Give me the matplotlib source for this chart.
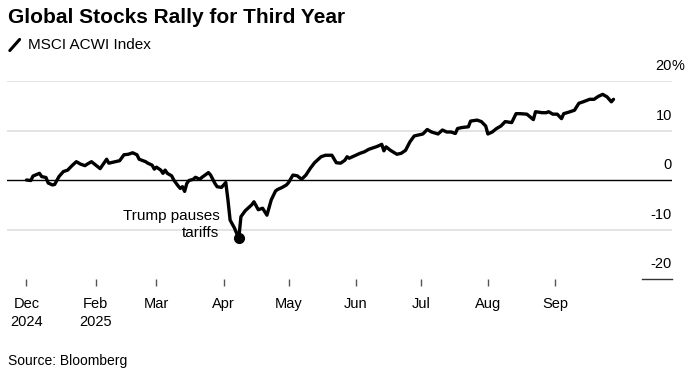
import pandas as pd
import matplotlib
matplotlib.use("Agg")
import matplotlib.pyplot as plt
from matplotlib.lines import Line2D

plt.rcParams["font.family"] = ["Liberation Sans", "DejaVu Sans"]

# MSCI ACWI Index, % change since end of 2024
dates = [
    "2024-12-31", "2025-01-02", "2025-01-03", "2025-01-06", "2025-01-07", "2025-01-09",
    "2025-01-10", "2025-01-12", "2025-01-13", "2025-01-15", "2025-01-17", "2025-01-19",
    "2025-01-21", "2025-01-23", "2025-01-25", "2025-01-27", "2025-01-28", "2025-01-30",
    "2025-02-01", "2025-02-03", "2025-02-06", "2025-02-07", "2025-02-10", "2025-02-12",
    "2025-02-14", "2025-02-16", "2025-02-18", "2025-02-20", "2025-02-21", "2025-02-24",
    "2025-02-25", "2025-02-27", "2025-02-28", "2025-03-01", "2025-03-03", "2025-03-04",
    "2025-03-05", "2025-03-06", "2025-03-08", "2025-03-09", "2025-03-11", "2025-03-12",
    "2025-03-13", "2025-03-14", "2025-03-15", "2025-03-16", "2025-03-18", "2025-03-19",
    "2025-03-21", "2025-03-22", "2025-03-23", "2025-03-25", "2025-03-26", "2025-03-28",
    "2025-03-29", "2025-03-31", "2025-04-02", "2025-04-03", "2025-04-04", "2025-04-06",
    "2025-04-08", "2025-04-09", "2025-04-11", "2025-04-14", "2025-04-15", "2025-04-17",
    "2025-04-19", "2025-04-21", "2025-04-23", "2025-04-25", "2025-04-26", "2025-04-28",
    "2025-04-30", "2025-05-01", "2025-05-03", "2025-05-05", "2025-05-07", "2025-05-09",
    "2025-05-11", "2025-05-13", "2025-05-16", "2025-05-18", "2025-05-21", "2025-05-23",
    "2025-05-25", "2025-05-27", "2025-05-28", "2025-05-29", "2025-05-31", "2025-06-03",
    "2025-06-05", "2025-06-07", "2025-06-09", "2025-06-11", "2025-06-13", "2025-06-14",
    "2025-06-15", "2025-06-17", "2025-06-20", "2025-06-22", "2025-06-24", "2025-06-26",
    "2025-06-28", "2025-06-30", "2025-07-02", "2025-07-04", "2025-07-06", "2025-07-09",
    "2025-07-11", "2025-07-13", "2025-07-15", "2025-07-17", "2025-07-18", "2025-07-20",
    "2025-07-23", "2025-07-24", "2025-07-27", "2025-07-29", "2025-07-31", "2025-08-01",
    "2025-08-03", "2025-08-05", "2025-08-07", "2025-08-09", "2025-08-12", "2025-08-14",
    "2025-08-16", "2025-08-19", "2025-08-22", "2025-08-23", "2025-08-26", "2025-08-28",
    "2025-08-29", "2025-08-31", "2025-09-02", "2025-09-04", "2025-09-05", "2025-09-08",
    "2025-09-10", "2025-09-12", "2025-09-14", "2025-09-17", "2025-09-19", "2025-09-21",
    "2025-09-23", "2025-09-25", "2025-09-27", "2025-09-28",
]
acwi_pct = [
    0.0, -0.1, 0.8, 1.35, 0.7, 0.5,
    -0.6, -1.0, -0.9, 0.7, 1.7, 2.0,
    2.9, 3.7, 3.2, 2.9, 3.2, 3.7,
    3.0, 2.3, 4.2, 3.4, 3.7, 3.9,
    5.1, 5.2, 5.5, 5.1, 4.2, 3.7,
    3.4, 3.0, 2.2, 2.6, 2.0, 1.35,
    2.0, 1.35, 0.85, 0.0, -1.2, -1.7,
    -1.35, -2.3, -0.7, -0.1, 0.15, 0.55,
    0.15, 0.55, 0.85, 1.5, 1.0, -0.7,
    -1.35, -1.5, -0.5, -4.0, -8.1, -9.7,
    -11.8, -7.4, -6.2, -5.0, -4.4, -6.0,
    -5.7, -7.1, -4.0, -2.2, -1.9, -1.5,
    -1.0, -0.5, 1.0, 0.85, 0.15, 1.0,
    2.35, 3.5, 4.7, 5.0, 5.0, 3.5,
    3.4, 4.0, 4.7, 4.4, 4.8, 5.4,
    5.7, 6.2, 6.5, 6.8, 7.2, 5.9,
    6.7, 6.0, 5.2, 5.4, 6.0, 7.7,
    8.9, 9.1, 9.3, 10.2, 9.7, 9.3,
    10.1, 9.7, 9.7, 9.4, 10.4, 10.6,
    10.75, 11.9, 12.1, 11.8, 10.9, 9.3,
    9.7, 10.4, 10.9, 11.8, 11.6, 13.4,
    13.4, 13.3, 12.2, 13.8, 13.6, 13.6,
    13.8, 13.3, 13.3, 12.4, 13.4, 13.8,
    14.1, 15.5, 15.8, 16.3, 16.3, 16.9,
    17.3, 16.8, 15.8, 16.3,
]

tick_dates = ["2024-12-31", "2025-02-01", "2025-03-01", "2025-04-01", "2025-05-01",
              "2025-06-01", "2025-07-01", "2025-08-01", "2025-09-01"]
tick_labels = ["Dec\n2024", "Feb\n2025", "Mar", "Apr", "May", "Jun", "Jul", "Aug", "Sep"]
y_ticks = [20, 10, 0, -10, -20]
y_labels = ["20", "10", "0", "-10", "-20"]

annot_date = "2025-04-08"
annot_text = "Trump pauses\ntariffs"

df = pd.DataFrame({"date": pd.to_datetime(dates), "pct": acwi_pct})

fig = plt.figure(figsize=(7.0, 3.83), dpi=100)
ax = fig.add_axes([0.01, 0.2715, 0.95, 0.517])

# gridlines
for v in y_ticks:
    if v == 0:
        ax.axhline(v, color="black", lw=1.0, zorder=2)
    elif v != -20:
        ax.axhline(v, color="#e3e3e3", lw=1.4, zorder=1)

ax.plot(df["date"], df["pct"], color="black", lw=2.4, solid_joinstyle="round",
        solid_capstyle="round", zorder=3)

# annotation dot
low = df.loc[df["date"] == pd.Timestamp(annot_date), "pct"].iloc[0]
ax.plot(pd.Timestamp(annot_date), low, "o", color="black", ms=7, zorder=4)
ax.annotate(annot_text, xy=(pd.Timestamp(annot_date), low), xytext=(-14, 10),
            textcoords="offset points", ha="right", va="center", fontsize=11,
            linespacing=1.25)

ax.set_xlim(pd.Timestamp("2024-12-22"), pd.Timestamp("2025-10-25"))
ax.set_ylim(-20, 20)

ax.set_xticks(pd.to_datetime(tick_dates))
ax.set_xticklabels(tick_labels, fontsize=10.5, linespacing=1.35)
ax.tick_params(axis="x", length=5, width=1, color="#555555", pad=8)
ax.set_yticks([])
for s in ax.spines.values():
    s.set_visible(False)

# y labels sit above their gridlines on the right
ytr = ax.get_yaxis_transform()
for v, lab in zip(y_ticks, y_labels):
    ax.text(1.0, v + 1.6, lab, transform=ytr, ha="right", va="bottom", fontsize=10.5)
ax.text(1.0, 20 + 1.6, "%", transform=ytr, ha="left", va="bottom", fontsize=10.5)
ax.plot([0.955, 1.0], [-20, -20], transform=ytr, color="#333333", lw=1.0, clip_on=False)

# title, legend key and source
fig.text(0.011, 0.955, "Global Stocks Rally for Third Year", fontsize=15,
         fontweight="bold", va="center")
fig.add_artist(Line2D([0.014, 0.028], [0.868, 0.897], color="black", lw=2.2,
                      solid_capstyle="round"))
fig.text(0.04, 0.882, "MSCI ACWI Index", fontsize=11, va="center")
fig.text(0.011, 0.057, "Source: Bloomberg", fontsize=10, va="center")

fig.savefig("out.png", dpi=100)
